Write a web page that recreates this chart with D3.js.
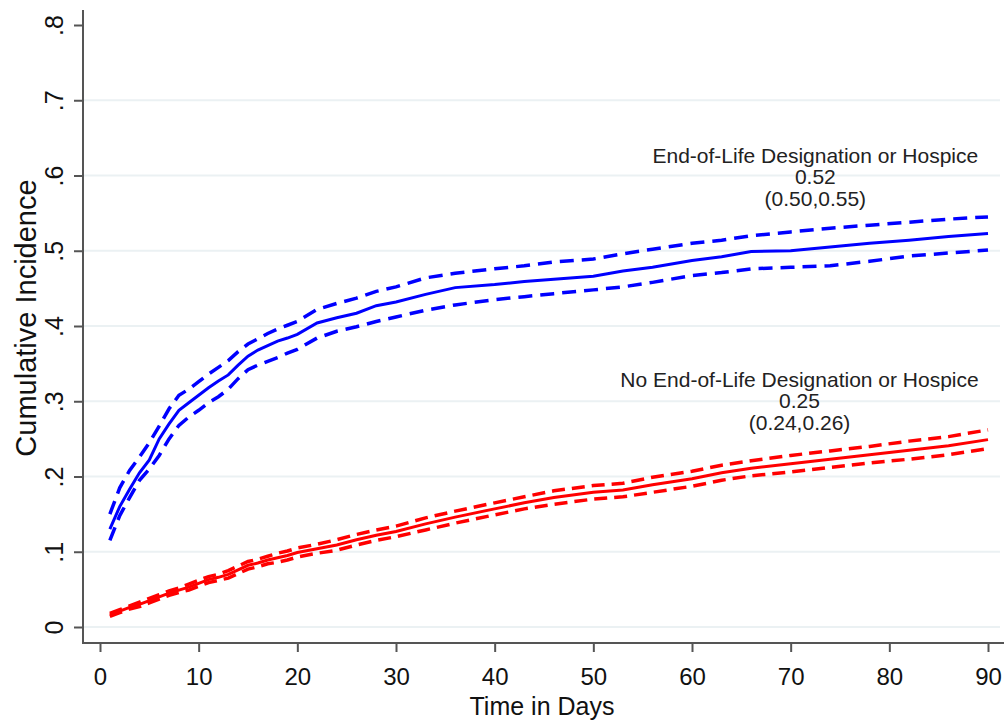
<!DOCTYPE html>
<html>
<head>
<meta charset="utf-8">
<script src="https://cdn.jsdelivr.net/npm/d3@7"></script>
<style>
  body { margin: 0; background: #fff; }
  svg { display: block; font-family: "Liberation Sans", Arial, sans-serif; }
</style>
</head>
<body>
<div id="container"></div>
<script>
const days = [1,2,3,4,5,6,7,8,9,10,11,12,13,14,15,16,17,18,19,20,22,24,26,28,30,33,36,40,43,46,50,53,56,60,63,66,70,74,78,82,86,90];

// End-of-Life Designation or Hospice (blue)
const eolEst = [0.130,0.160,0.183,0.205,0.222,0.250,0.270,0.288,0.298,0.308,0.318,0.327,0.335,0.348,0.360,0.368,0.374,0.380,0.384,0.389,0.404,0.411,0.417,0.427,0.432,0.442,0.451,0.455,0.459,0.462,0.466,0.473,0.478,0.487,0.492,0.499,0.500,0.505,0.510,0.514,0.519,0.523];
const eolUpper = [0.150,0.185,0.208,0.226,0.245,0.267,0.290,0.308,0.316,0.326,0.336,0.345,0.354,0.366,0.376,0.383,0.390,0.396,0.401,0.406,0.422,0.430,0.437,0.446,0.452,0.464,0.470,0.476,0.480,0.485,0.489,0.496,0.502,0.510,0.514,0.520,0.525,0.530,0.534,0.538,0.542,0.545];
const eolLower = [0.115,0.148,0.172,0.195,0.210,0.228,0.250,0.268,0.279,0.288,0.298,0.306,0.316,0.330,0.342,0.348,0.353,0.358,0.364,0.369,0.384,0.393,0.399,0.406,0.412,0.421,0.428,0.435,0.439,0.443,0.448,0.452,0.458,0.467,0.471,0.476,0.478,0.480,0.486,0.493,0.497,0.501];

// No End-of-Life Designation or Hospice (red)
const noEolEst = [0.016,0.021,0.026,0.030,0.035,0.040,0.045,0.049,0.053,0.058,0.063,0.066,0.070,0.076,0.082,0.085,0.089,0.092,0.095,0.099,0.104,0.109,0.116,0.122,0.127,0.137,0.146,0.157,0.165,0.172,0.179,0.182,0.189,0.197,0.205,0.211,0.217,0.223,0.229,0.235,0.241,0.249];
const noEolUpper = [0.018,0.023,0.028,0.033,0.038,0.043,0.048,0.052,0.057,0.062,0.067,0.070,0.075,0.081,0.087,0.090,0.094,0.098,0.101,0.105,0.110,0.116,0.123,0.129,0.134,0.145,0.154,0.165,0.173,0.181,0.188,0.191,0.199,0.207,0.215,0.221,0.228,0.234,0.240,0.247,0.253,0.262];
const noEolLower = [0.014,0.019,0.024,0.027,0.032,0.037,0.042,0.046,0.049,0.054,0.059,0.062,0.065,0.071,0.077,0.080,0.084,0.086,0.089,0.093,0.098,0.102,0.109,0.115,0.120,0.129,0.138,0.149,0.157,0.163,0.170,0.173,0.179,0.187,0.195,0.201,0.206,0.212,0.218,0.223,0.229,0.237];

const xTicks = [0,10,20,30,40,50,60,70,80,90];
const yTicks = [0,0.1,0.2,0.3,0.4,0.5,0.6,0.7,0.8];
const yTickLabels = ["0",".1",".2",".3",".4",".5",".6",".7",".8"];
const gridValues = [0,0.1,0.2,0.3,0.4,0.5,0.6,0.7];

const eolLabel = ["End-of-Life Designation or Hospice", "0.52", "(0.50,0.55)"];
const noEolLabel = ["No End-of-Life Designation or Hospice", "0.25", "(0.24,0.26)"];

const width = 1008, height = 723;
const axisX = 83, axisY = 643, axisTop = 10, axisRight = 1004;

const svg = d3.select("#container")
  .append("svg")
  .attr("width", width)
  .attr("height", height);

const x = d3.scaleLinear().domain([0, 90]).range([100, 988]);
const y = d3.scaleLinear().domain([0, 0.8]).range([627, 25]);

// grid
svg.append("g")
  .selectAll("line")
  .data(gridValues)
  .join("line")
  .attr("x1", axisX + 1)
  .attr("x2", 1000)
  .attr("y1", d => y(d))
  .attr("y2", d => y(d))
  .attr("stroke", "#ebf1f3")
  .attr("stroke-width", 2);

// y axis
const yAxis = svg.append("g")
  .attr("transform", `translate(${axisX},0)`)
  .call(d3.axisLeft(y).tickValues(yTicks).tickSize(9).tickFormat((d, i) => yTickLabels[i]));
yAxis.select(".domain").remove();
yAxis.selectAll(".tick line").attr("stroke", "#555").attr("stroke-width", 2);
yAxis.selectAll(".tick text")
  .attr("x", null).attr("dy", null)
  .attr("transform", "translate(-20,0) rotate(-90)")
  .attr("text-anchor", "middle")
  .attr("font-size", 25)
  .attr("fill", "#111");

// x axis
const xAxis = svg.append("g")
  .attr("transform", `translate(0,${axisY})`)
  .call(d3.axisBottom(x).tickValues(xTicks).tickSize(9).tickFormat(d3.format("d")));
xAxis.select(".domain").remove();
xAxis.selectAll(".tick line").attr("stroke", "#555").attr("stroke-width", 2);
xAxis.selectAll(".tick text")
  .attr("y", 42).attr("dy", null)
  .attr("font-size", 24)
  .attr("fill", "#111");

svg.append("line")
  .attr("x1", axisX).attr("x2", axisX)
  .attr("y1", axisTop).attr("y2", axisY + 1)
  .attr("stroke", "#555").attr("stroke-width", 2);
svg.append("line")
  .attr("x1", axisX - 1).attr("x2", axisRight)
  .attr("y1", axisY).attr("y2", axisY)
  .attr("stroke", "#555").attr("stroke-width", 2);

// axis titles
svg.append("text")
  .attr("transform", "translate(36,318) rotate(-90)")
  .attr("text-anchor", "middle")
  .attr("font-size", 29)
  .attr("fill", "#111")
  .text("Cumulative Incidence");

svg.append("text")
  .attr("x", 542)
  .attr("y", 715)
  .attr("text-anchor", "middle")
  .attr("font-size", 25)
  .attr("fill", "#111")
  .text("Time in Days");

// curves
const line = d3.line()
  .x(d => x(d[0]))
  .y(d => y(d[1]));

const series = [
  { vals: eolUpper, color: "#0000ff", dash: "14,8", w: 3.5 },
  { vals: eolLower, color: "#0000ff", dash: "14,8", w: 3.5 },
  { vals: eolEst, color: "#0000ff", dash: null, w: 3 },
  { vals: noEolUpper, color: "#ff0000", dash: "13,7", w: 3.5 },
  { vals: noEolLower, color: "#ff0000", dash: "13,7", w: 3.5 },
  { vals: noEolEst, color: "#ff0000", dash: null, w: 3 }
];

svg.append("g")
  .selectAll("path")
  .data(series)
  .join("path")
  .attr("fill", "none")
  .attr("stroke", d => d.color)
  .attr("stroke-width", d => d.w)
  .attr("stroke-dasharray", d => d.dash)
  .attr("d", d => line(days.map((t, i) => [t, d.vals[i]])));

// annotations
function annotate(lines, day, val) {
  const t = svg.append("text")
    .attr("text-anchor", "middle")
    .attr("font-size", 21)
    .attr("fill", "#222");
  lines.forEach((s, i) => {
    t.append("tspan")
      .attr("x", x(day))
      .attr("y", y(val) + i * 21.5)
      .text(s);
  });
}
annotate(eolLabel, 72.5, 0.617);
annotate(noEolLabel, 70.9, 0.319);
</script>
</body>
</html>
